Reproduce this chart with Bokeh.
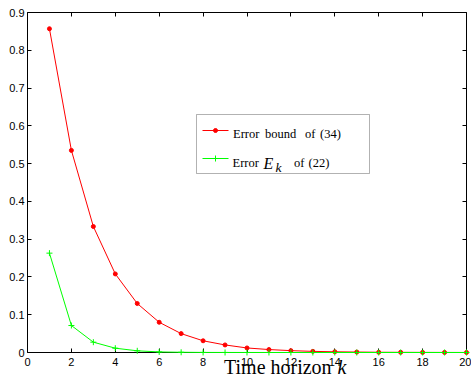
from bokeh.plotting import figure
from bokeh.models import (LinearAxis, FixedTicker, Range1d, Label, BoxAnnotation,
                          ColumnDataSource)
from bokeh.embed import file_html
from bokeh.resources import INLINE

# ---- data ----
k = list(range(1, 21))
bound_34 = [0.857, 0.535, 0.3335, 0.208, 0.1297, 0.080, 0.050, 0.031, 0.020, 0.012,
            0.0078, 0.0049, 0.0030, 0.0019, 0.0012, 0.0007, 0.00046, 0.00029, 0.00018, 0.00011]
error_22 = [0.263, 0.0715, 0.0273, 0.0114, 0.0045, 0.0015, 0.0006, 0.0002, 0.0001, 0.00005,
            0.00002, 0.00001, 0.0, 0.0, 0.0, 0.0, 0.0, 0.0, 0.0, 0.0]
x_ticks = list(range(0, 21, 2))
y_ticks = [0.0, 0.1, 0.2, 0.3, 0.4, 0.5, 0.6, 0.7, 0.8, 0.9]
y_tick_labels = ["0", "0.1", "0.2", "0.3", "0.4", "0.5", "0.6", "0.7", "0.8", "0.9"]
legend_row1 = ["Error", "bound", "of", "(34)"]
legend_row2 = ["Error", "E", "k", "of", "(22)"]
x_label = ["Time horizon", "k"]

# ---- layout constants (image pixels) ----
W, H = 471, 375
FL, FR, FT, FB = 27, 466, 12, 352      # axes box (x=0..20, y=0..0.9)
X0, X1, Y0, Y1 = 0, 20, 0.0, 0.9
# the frame covers the whole canvas; the axes box is drawn with fixed-location axes
XMIN = X0 - FL / (FR - FL) * (X1 - X0)
XMAX = X1 + (W - FR) / (FR - FL) * (X1 - X0)
YMIN = Y0 - (H - FB) / (FB - FT) * (Y1 - Y0)
YMAX = Y1 + FT / (FB - FT) * (Y1 - Y0)

def px_x(px):
    return X0 + (px - FL) / (FR - FL) * (X1 - X0)

def px_y(py):
    return Y0 + (FB - py) / (FB - FT) * (Y1 - Y0)

p = figure(width=W, height=H, output_backend="svg", toolbar_location=None,
           x_range=Range1d(XMIN, XMAX), y_range=Range1d(YMIN, YMAX),
           x_axis_location=None, y_axis_location=None,
           min_border_left=0, min_border_right=0, min_border_top=0,
           min_border_bottom=0)
p.background_fill_color = "white"
p.border_fill_color = "white"
p.outline_line_color = None
p.grid.visible = False

def style(ax, labels=True):
    ax.axis_line_color = "black"
    ax.axis_line_width = 1
    ax.major_tick_line_color = "black"
    ax.major_tick_in = 4
    ax.major_tick_out = 0
    ax.minor_tick_line_color = None
    if labels:
        ax.major_label_text_color = "black"
        ax.major_label_text_font = "Liberation Sans"
        ax.major_label_text_font_size = "11px"
    else:
        ax.major_label_text_font_size = "0px"
        ax.major_label_standoff = 0

bottom = LinearAxis(ticker=FixedTicker(ticks=x_ticks), fixed_location=Y0, bounds=(X0, X1))
style(bottom)
bottom.major_label_standoff = 5
top = LinearAxis(ticker=FixedTicker(ticks=x_ticks), fixed_location=Y1, bounds=(X0, X1))
style(top, labels=False)
left = LinearAxis(ticker=FixedTicker(ticks=y_ticks), fixed_location=X0, bounds=(Y0, Y1))
style(left)
left.major_label_standoff = 3
left.major_label_overrides = {t: s for t, s in zip(y_ticks, y_tick_labels)}
right = LinearAxis(ticker=FixedTicker(ticks=y_ticks), fixed_location=X1, bounds=(Y0, Y1))
style(right, labels=False)
p.add_layout(bottom, "below")
p.add_layout(top, "above")
p.add_layout(left, "left")
p.add_layout(right, "right")

src = ColumnDataSource(dict(k=k, b=bound_34, e=error_22))
data_renderers = [
    p.line("k", "b", source=src, line_color="#ff0000", line_width=1),
    p.scatter("k", "b", source=src, marker="circle", size=4, fill_color="#ff0000",
              line_color="#ff0000"),
    p.line("k", "e", source=src, line_color="#00ff00", line_width=1),
    p.scatter("k", "e", source=src, marker="cross", size=6, line_color="#00ff00",
              line_width=1),
]
for r in data_renderers:
    r.level = "annotation"   # drawn over the axis line, as in the reference

# ---- legend ----
box = BoxAnnotation(left=px_x(196), right=px_x(369), top=px_y(114), bottom=px_y(173),
                    fill_color="white", fill_alpha=1, line_color="black", line_width=1)
p.add_layout(box)

r1 = p.line([px_x(202), px_x(228)], [px_y(130), px_y(130)], line_color="#ff0000", line_width=1)
m1 = p.scatter([px_x(215)], [px_y(130)], marker="circle", size=4, fill_color="#ff0000",
               line_color="#ff0000")
r2 = p.line([px_x(202), px_x(228)], [px_y(158), px_y(158)], line_color="#00ff00", line_width=1)
m2 = p.scatter([px_x(215)], [px_y(158)], marker="cross", size=6, line_color="#00ff00")
for r in (r1, m1, r2, m2):
    r.level = "overlay"

def add_label(txt, xp, yp, size, style_="normal"):
    lab = Label(x=px_x(xp), y=px_y(yp), text=txt, text_font="Liberation Serif",
                text_font_size=size, text_font_style=style_, text_color="black",
                text_align="left", text_baseline="alphabetic", level="overlay")
    p.add_layout(lab)

for txt, xp in zip(legend_row1, [232.5, 264.5, 304.5, 319.5]):
    add_label(txt, xp, 133.5, "12.5px")
add_label(legend_row2[0], 232, 162.5, "12.5px")
add_label(legend_row2[1], 263, 162.5, "16px", "italic")
add_label(legend_row2[2], 275, 166.5, "13.5px", "italic")
add_label(legend_row2[3], 293.5, 162.5, "12.5px")
add_label(legend_row2[4], 308, 162.5, "12.5px")

# ---- x axis title ----
add_label(x_label[0], 223.5, 366, "20px")
add_label(x_label[1], 337, 366, "20px", "italic")

open("out.html", "w").write(file_html(p, INLINE))
